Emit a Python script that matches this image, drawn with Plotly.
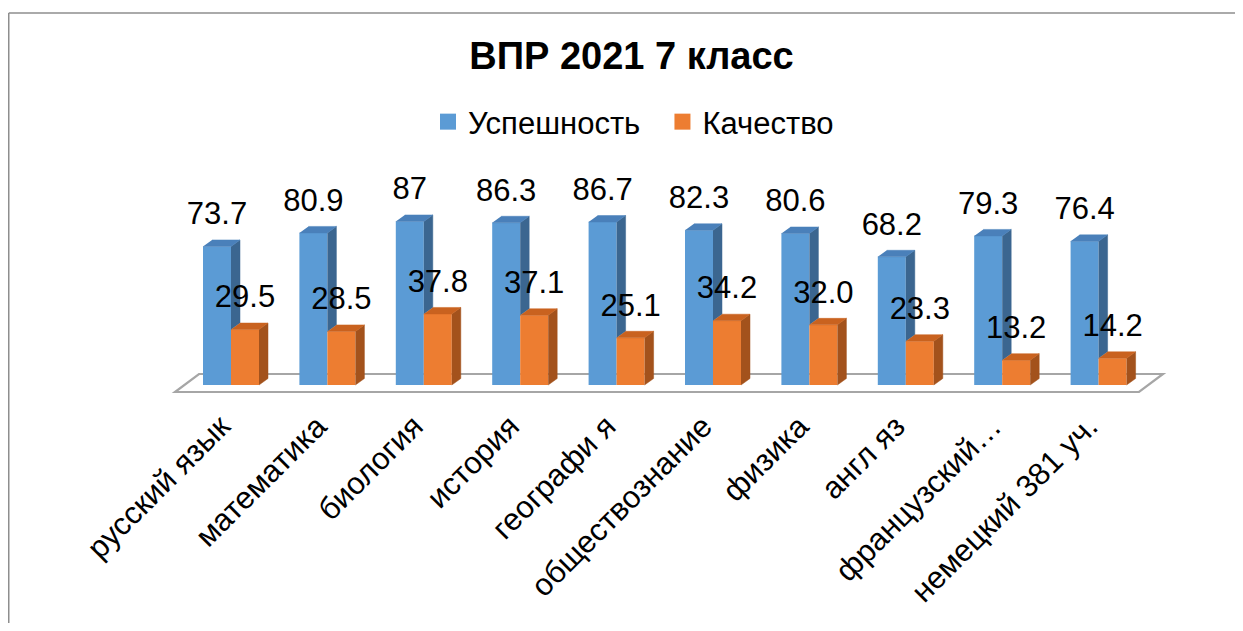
import plotly.graph_objects as go

# ---------------- data ----------------
categories = ["русский язык", "математика", "биология", "история", "географи я",
              "обществознание", "физика", "англ яз", "французский…", "немецкий 381 уч."]
uspeshnost = [73.7, 80.9, 87, 86.3, 86.7, 82.3, 80.6, 68.2, 79.3, 76.4]
kachestvo = [29.5, 28.5, 37.8, 37.1, 25.1, 34.2, 32.0, 23.3, 13.2, 14.2]
series_names = ["Успешность", "Качество"]
title_text = "ВПР 2021 7 класс"

# ---------------- styling / geometry ----------------
OFF = 8                      # page body margin
W, H = 1243 - 2 * OFF, 631 - 2 * OFF
L, R, T = 150, 60, 142
B = H - (405 - OFF)
PW, PH = W - L - R, H - T - B
SX = 96.4          # px per category
SY = 1.88          # px per value unit
X0 = -((231 - OFF) - L) / SX
Y0 = -((H - B) - (385 - OFF)) / SY
XR = [X0, X0 + PW / SX]
YR = [Y0, Y0 + PH / SY]

BW = 28 / SX       # front face width (data units)
DX = 9 / SX        # depth offset x
DY = 6.5 / SY      # depth offset y
LBL = 30 / SY      # label offset above front top

BLUE, BLUE_SIDE, BLUE_TOP = "#5B9BD5", "#3B6690", "#4A80BA"
ORANGE, ORANGE_SIDE, ORANGE_TOP = "#ED7D31", "#A3521C", "#C9621F"
FONT = "Liberation Sans, Arial, sans-serif"

n = len(categories)
xs = list(range(n))

fig = go.Figure()

# front faces
fig.add_trace(go.Bar(x=xs, y=uspeshnost, width=BW, offset=-BW, marker=dict(color=BLUE, line=dict(width=0)),
                     showlegend=False, hoverinfo="skip", name=series_names[0]))
fig.add_trace(go.Bar(x=xs, y=kachestvo, width=BW, offset=0, marker=dict(color=ORANGE, line=dict(width=0)),
                     showlegend=False, hoverinfo="skip", name=series_names[1]))


def poly_trace(polys, color):
    px, py = [], []
    for p in polys:
        for (a, b) in p:
            px.append(a)
            py.append(b)
        px.append(None)
        py.append(None)
    return go.Scatter(x=px, y=py, mode="lines", fill="toself", fillcolor=color,
                      line=dict(width=0.5, color=color), showlegend=False, hoverinfo="skip")


blue_side, blue_top, or_side, or_top = [], [], [], []
for i, (v, o) in enumerate(zip(uspeshnost, kachestvo)):
    xl, xm, xr = i - BW, i, i + BW
    bottom = min(o, v)
    blue_side.append([(xm, bottom), (xm + DX, bottom + DY), (xm + DX, v + DY), (xm, v)])
    blue_top.append([(xl, v), (xm, v), (xm + DX, v + DY), (xl + DX, v + DY)])
    or_side.append([(xr, 0), (xr + DX, DY), (xr + DX, o + DY), (xr, o)])
    or_top.append([(xm, o), (xr, o), (xr + DX, o + DY), (xm + DX, o + DY)])

fig.add_trace(poly_trace(blue_side, BLUE_SIDE))
fig.add_trace(poly_trace(blue_top, BLUE_TOP))
fig.add_trace(poly_trace(or_side, ORANGE_SIDE))
fig.add_trace(poly_trace(or_top, ORANGE_TOP))

# data labels
LBL_SIZE = 31
fig.add_trace(go.Scatter(x=[i - BW / 2 for i in xs], y=[v + LBL for v in uspeshnost],
                         text=[f"{v:g}" for v in uspeshnost], mode="text",
                         textfont=dict(size=LBL_SIZE, color="#000000", family=FONT),
                         showlegend=False, hoverinfo="skip", cliponaxis=False))
fig.add_trace(go.Scatter(x=[i + BW / 2 for i in xs], y=[o + LBL for o in kachestvo],
                         text=[f"{o:.1f}" for o in kachestvo], mode="text",
                         textfont=dict(size=LBL_SIZE, color="#000000", family=FONT),
                         showlegend=False, hoverinfo="skip", cliponaxis=False))

# legend entries (non-breaking spaces widen the gap between items)
legend_pad = ["\u00a0\u00a0", ""]
for name, col, pad in zip(series_names, [BLUE, ORANGE], legend_pad):
    fig.add_trace(go.Scatter(x=[None], y=[None], mode="markers", name=name + pad,
                             marker=dict(symbol="square", size=16, color=col)))

# floor (3D base)
fl_front = -7 / SY
fl_back = 11 / SY
fx_l, fx_r = -0.581, n - 1 + 0.419
fdx = 24 / SX
floor_path = (f"M {fx_l},{fl_front} L {fx_r},{fl_front} L {fx_r + fdx},{fl_back} "
              f"L {fx_l + fdx},{fl_back} Z")

# chart border: only the left and top edges are visible in the frame
bx = ((8 - OFF) + 0.75 - L) / PW
by = ((H - B) - (13 - OFF)) / PH
shapes = [
    dict(type="path", xref="x", yref="y", path=floor_path, layer="below",
         fillcolor="#FFFFFF", line=dict(color="#A6A6A6", width=2.2)),
    dict(type="line", xref="paper", yref="paper", x0=bx, x1=bx, y0=by, y1=-(B + 5) / PH,
         line=dict(color="#8E8E8E", width=1.5), layer="below"),
    dict(type="line", xref="paper", yref="paper", x0=bx, x1=(W + 5 - L) / PW, y0=by, y1=by,
         line=dict(color="#8E8E8E", width=1.5), layer="below"),
]

fig.update_layout(
    width=W, height=H,
    margin=dict(l=L, r=R, t=T, b=B, autoexpand=False),
    paper_bgcolor="#FFFFFF", plot_bgcolor="rgba(0,0,0,0)",
    barmode="overlay",
    title=dict(text=f"<b>{title_text}</b>", x=(631.5 - OFF) / W, xanchor="center", xref="container",
               y=1 - (56 - OFF) / H, yanchor="middle", yref="container",
               font=dict(size=38, color="#000000", family=FONT)),
    legend=dict(orientation="h", x=(633.5 - OFF) / W, xanchor="center", xref="container",
                y=1 - (122 - OFF) / H, yanchor="middle", yref="container",
                font=dict(size=31, color="#000000", family=FONT), itemclick=False,
                bgcolor="rgba(0,0,0,0)"),
    xaxis=dict(range=XR, tickmode="array", tickvals=xs, ticktext=categories, tickangle=-45,
               showgrid=False, zeroline=False, showline=False, ticks="", automargin=False,
               ticklabelshift=-10, ticklabelstandoff=-4,
               tickfont=dict(size=31, color="#000000", family=FONT), fixedrange=True),
    yaxis=dict(range=YR, visible=False, showgrid=False, zeroline=False, fixedrange=True,
               automargin=False),
    shapes=shapes,
    showlegend=True,
)

fig.write_html("out.html", config={"displayModeBar": False})
